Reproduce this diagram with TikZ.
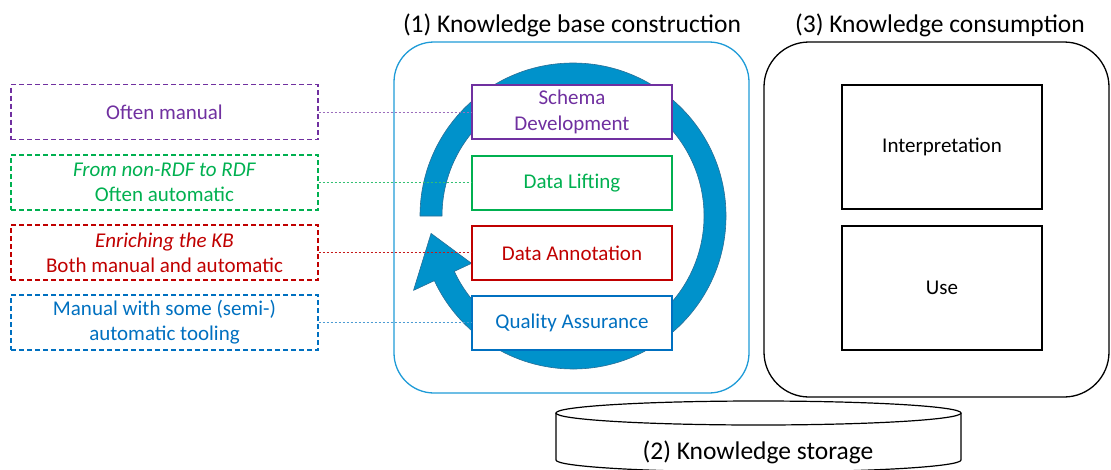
\documentclass[tikz,border=0pt]{standalone}
\usepackage{fontspec}
\setmainfont{Carlito}
\usetikzlibrary{calc}
\definecolor{cpurple}{RGB}{112,48,160}
\definecolor{cgreen}{RGB}{0,176,80}
\definecolor{cred}{RGB}{192,0,0}
\definecolor{cblue}{RGB}{0,112,192}
\definecolor{lblue}{RGB}{30,155,215}
\definecolor{arrowfill}{RGB}{0,146,203}
\definecolor{arrowline}{RGB}{40,110,150}
\begin{document}
\begin{tikzpicture}[x=1pt,y=-1pt,
  innerbox/.style={draw, line width=1.3pt, fill=white, minimum width=200pt, minimum height=54pt, inner sep=0pt, align=center, font=\fontsize{21}{26}\selectfont},
  leftbox/.style={draw, dashed, dash pattern=on 5pt off 3pt, line width=1.2pt, minimum width=307pt, minimum height=55pt, inner sep=0pt, align=center, font=\fontsize{21}{25}\selectfont},
  conn/.style={dashed, dash pattern=on 2pt off 2pt, line width=0.8pt},
  title/.style={font=\fontsize{25.5}{30}\selectfont, inner sep=0pt}
]
\useasboundingbox (0,0) rectangle (1111,469);
\clip (0,0) rectangle (1111,469);
% outer containers
\draw[lblue, line width=1.3pt, rounded corners=40pt] (394,42) rectangle (749,393);
\draw[black, line width=1.3pt, rounded corners=45pt] (764,42) rectangle (1109,397);
\node[title] (t1) at (572,25) {(1) Knowledge base construction};
\node[title] (t3) at (940,25) {(3) Knowledge consumption};
% cycle arrow
\coordinate (c) at (573,216);
\fill[arrowfill, draw=arrowline, line width=0.6pt, line join=round]
  ($(c)+(-180:153)$) arc[start angle=-180, end angle=155, radius=153]
  -- ($(c)+(155:176)$) -- ($(c)+(173:143)$) -- ($(c)+(155:112)$)
  -- ($(c)+(155:131)$) arc[start angle=155, end angle=-180, radius=131] -- cycle;
% left notes
\node[leftbox, cpurple] (lp) at (164.5,112) {Often manual};
\node[leftbox, cgreen] (lg) at (164.5,182.5) {\textit{From non-RDF to RDF}\\Often automatic};
\node[leftbox, cred] (lr) at (164.5,252.5) {\textit{Enriching the KB}\\Both manual and automatic};
\node[leftbox, cblue] (lb) at (164.5,322.5) {Manual with some (semi-)\\automatic tooling};
% steps
\node[innerbox, draw=cpurple, text=cpurple] (sp) at (572,112) {Schema\\Development};
\node[innerbox, draw=cgreen, text=cgreen] (sg) at (572,183) {Data Lifting};
\node[innerbox, draw=cred, text=cred] (sr) at (572,253) {Data Annotation};
\node[innerbox, draw=cblue, text=cblue] (sb) at (572,323) {Quality Assurance};
% connectors
\draw[conn, cpurple!70] (lp.east) -- (lp.east -| sp.west);
\draw[conn, cgreen!80] (lg.east) -- (lg.east -| sg.west);
\draw[conn, cred!90] (lr.east) -- (lr.east -| sr.west);
\draw[conn, cblue!70] (lb.east) -- (lb.east -| sb.west);
% consumption
\node[innerbox, draw=black, minimum height=124pt] (interp) at (942,147) {Interpretation};
\node[innerbox, draw=black, minimum height=124pt] (use) at (942,288) {Use};
% storage cylinder
\draw[line width=1.2pt, fill=white] (556,413) -- (556,460) arc[start angle=180, end angle=0, x radius=202.5, y radius=12] -- (961,413);
\draw[line width=1.2pt, fill=white] (758.5,413) ellipse[x radius=202.5, y radius=12];
\node[title] (st) at (758,452) {(2) Knowledge storage};
\end{tikzpicture}
\end{document}
